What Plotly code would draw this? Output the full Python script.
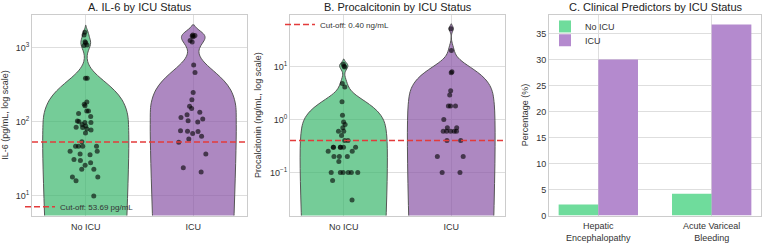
import numpy as np
import plotly.graph_objects as go

# ---------------- data ----------------
groups = ["No ICU", "ICU"]

il6_no_icu = [1630, 1500, 1100, 1210, 1080, 1180, 390, 390, 165, 173, 186,
              130, 141, 141, 118, 85, 80, 101, 98, 92, 88, 98, 103, 84, 71,
              78, 54, 47, 47, 47, 47, 40, 40, 37, 30, 26, 36, 28, 31, 23, 23,
              16, 18, 18, 10]
il6_icu = [1480, 1450, 1500, 1420, 1260, 1200, 590, 465, 250, 200, 163, 152,
           135, 125, 110, 115, 104, 100, 75, 74, 76, 70, 64, 59, 53, 37, 21, 24]

pct_no_icu = [11, 10.1, 9.8, 4.8, 4.1, 2.15, 1.2, 0.9, 0.8, 0.7, 0.6, 0.6,
              0.5, 0.4, 0.4, 0.3, 0.3, 0.3, 0.3, 0.3, 0.3, 0.25, 0.25,
              0.2, 0.2, 0.2, 0.16, 0.1, 0.1, 0.1, 0.1, 0.1, 0.1, 0.07, 0.03]
pct_icu = [52, 20, 8, 7.6, 3.5, 2.9, 1.8, 1.8, 1.8, 1.0, 0.7, 0.7, 0.6,
           0.6, 0.6, 0.6, 0.6, 0.4, 0.4, 0.2, 0.2, 0.1, 0.1]

il6_cutoff = 53.69
pct_cutoff = 0.40

predictors = ["Hepatic<br>Encephalopathy", "Acute Variceal<br>Bleeding"]
pred_no_icu = [2.1, 4.2]
pred_icu = [30.0, 36.7]

panel_titles = ["A. IL-6 by ICU Status", "B. Procalcitonin by ICU Status",
                "C. Clinical Predictors by ICU Status"]

# ---------------- styling ----------------
W, H = 767, 245
FONT = "Liberation Sans"
VIOLIN_FILL = ["rgba(59,182,108,0.7)", "rgba(138,85,166,0.7)"]
VIOLIN_LINE = "#555555"
BAR_GREEN = "#6fdc9c"
BAR_PURPLE = "#b48ace"
GRID = "#dedede"
FRAME = "#cccccc"
TXT = "#333333"
RED = "#e33b3b"


def px(x):
    return x / W


def py(y):
    return 1 - y / H


def scott_bw(vals):
    v = np.asarray(vals, dtype=float)
    return float(np.std(v, ddof=1) * len(v) ** (-1 / 5))


fig = go.Figure()

# --- panel A & B violins (density estimated on the raw values, log axis) ---
for data, xa, ya, low in [([il6_no_icu, il6_icu], "x", "y", 3.0),
                          ([pct_no_icu, pct_icu], "x2", "y2", 0.008)]:
    for i, vals in enumerate(data):
        bw = scott_bw(vals)
        fig.add_trace(go.Violin(
            x=[i] * len(vals), y=vals, xaxis=xa, yaxis=ya,
            width=0.8, scalemode="width", bandwidth=bw,
            spanmode="manual", span=[low, max(vals) + 2 * bw],
            fillcolor=VIOLIN_FILL[i],
            line=dict(color=VIOLIN_LINE, width=1),
            points="all", pointpos=0, jitter=0.42,
            marker=dict(color="rgba(0,0,0,0.6)", size=5, line=dict(width=0)),
            box_visible=False, meanline_visible=False,
            showlegend=False, hoveron="points",
        ))

# cut-off lines
fig.add_trace(go.Scatter(
    x=[-0.5, 1.5], y=[il6_cutoff] * 2, xaxis="x", yaxis="y",
    mode="lines", line=dict(color=RED, width=1.5, dash="6px,3px"),
    name=f"Cut-off: {il6_cutoff:.2f} pg/mL", legend="legend"))
fig.add_trace(go.Scatter(
    x=[-0.5, 1.5], y=[pct_cutoff] * 2, xaxis="x2", yaxis="y2",
    mode="lines", line=dict(color=RED, width=1.5, dash="6px,3px"),
    name=f"Cut-off: {pct_cutoff:.2f} ng/mL", legend="legend2"))

# --- panel C bars ---
fig.add_trace(go.Bar(x=[0, 1], y=pred_no_icu, name="No ICU", xaxis="x3", yaxis="y3",
                     marker=dict(color=BAR_GREEN, line=dict(width=0)), legend="legend3"))
fig.add_trace(go.Bar(x=[0, 1], y=pred_icu, name="ICU", xaxis="x3", yaxis="y3",
                     marker=dict(color=BAR_PURPLE, line=dict(width=0)), legend="legend4"))

axis_common = dict(showline=True, mirror=True, linecolor=FRAME, linewidth=1,
                   showgrid=True, gridcolor=GRID, gridwidth=1, zeroline=False,
                   ticks="", tickfont=dict(size=9, color=TXT, family=FONT))
xaxis_extra = dict(ticklabelstandoff=3)


def sup(e):
    return f"10<sup>{str(e).replace('-', chr(0x2212))}</sup>"


legend_common = dict(xanchor="left", yanchor="middle", bgcolor="rgba(0,0,0,0)",
                     borderwidth=0)

fig.update_layout(
    width=W, height=H, margin=dict(l=0, r=0, t=0, b=0),
    paper_bgcolor="white", plot_bgcolor="white",
    font=dict(family=FONT, color=TXT),
    barmode="group", bargap=0.3, bargroupgap=0,
    violinmode="overlay",
    xaxis=dict(domain=[px(32), px(247)], anchor="y", range=[-0.5, 1.5],
               tickvals=[0, 1], ticktext=groups, **axis_common, **xaxis_extra),
    yaxis=dict(domain=[py(220), py(15)], anchor="x", type="log", range=[0.735, 3.45],
               tickvals=[10, 100, 1000], ticktext=[sup(e) for e in [1, 2, 3]],
               title=dict(text="IL-6 (pg/mL, log scale)", font=dict(size=9, color=TXT), standoff=6),
               **axis_common),
    xaxis2=dict(domain=[px(290), px(505)], anchor="y2", range=[-0.5, 1.5],
                tickvals=[0, 1], ticktext=groups, **axis_common, **xaxis_extra),
    yaxis2=dict(domain=[py(220), py(15)], anchor="x2", type="log", range=[-1.815, 1.98],
                tickvals=[0.1, 1, 10], ticktext=[sup(e) for e in [-1, 0, 1]],
                title=dict(text="Procalcitonin (ng/mL, log scale)", font=dict(size=9, color=TXT), standoff=6),
                **axis_common),
    xaxis3=dict(domain=[px(549), px(761)], anchor="y3", range=[-0.435, 1.435],
                tickvals=[0, 1], ticktext=predictors, **axis_common, ticklabelstandoff=2),
    yaxis3=dict(domain=[py(220), py(15)], anchor="x3", range=[0, 38.6],
                tickvals=[0, 5, 10, 15, 20, 25, 30, 35],
                title=dict(text="Percentage (%)", font=dict(size=9, color=TXT), standoff=6),
                **axis_common),
    legend=dict(x=px(20), y=py(211), font=dict(size=8, color=TXT, family=FONT), **legend_common),
    legend2=dict(x=px(280), y=py(25), font=dict(size=8, color=TXT, family=FONT), **legend_common),
    legend3=dict(x=px(545), y=py(27), font=dict(size=9, color=TXT, family=FONT), **legend_common),
    legend4=dict(x=px(545), y=py(41), font=dict(size=9, color=TXT, family=FONT), **legend_common),
)

for i, t in enumerate(panel_titles):
    cx = [139.5, 397.5, 655][i]
    fig.add_annotation(text=t, x=px(cx), y=py(7), xref="paper", yref="paper",
                       showarrow=False, xanchor="center", yanchor="middle",
                       font=dict(size=11, color="#222222", family=FONT))

fig.write_html("out.html")
